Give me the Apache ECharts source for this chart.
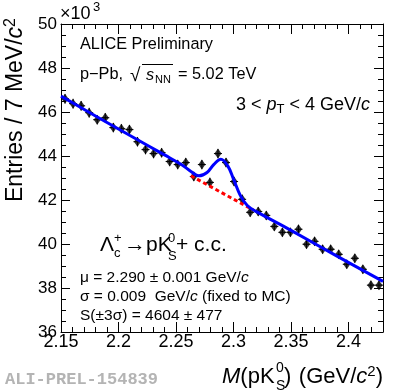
<!DOCTYPE html>
<html>
<head>
<meta charset="utf-8">
<script src="https://cdn.jsdelivr.net/npm/echarts@6/dist/echarts.min.js"></script>
<style>
html, body { margin: 0; padding: 0; background: #fff; }
#chart { width: 403px; height: 391px; }
</style>
</head>
<body>
<div id="chart"></div>
<script>
// invariant mass bin centres (GeV/c^2), 7 MeV bins
var massBins = [2.1535, 2.1605, 2.1675, 2.1745, 2.1815, 2.1885, 2.1955, 2.2025, 2.2095, 2.2165,
    2.2235, 2.2305, 2.2375, 2.2445, 2.2515, 2.2585, 2.2655, 2.2725, 2.2795, 2.2865,
    2.2935, 2.3005, 2.3075, 2.3145, 2.3215, 2.3285, 2.3355, 2.3425, 2.3495, 2.3565,
    2.3635, 2.3705, 2.3775, 2.3845, 2.3915, 2.3985, 2.4055, 2.4125, 2.4195, 2.4265];
// entries (x10^3)
var entries = [46.60, 46.38, 46.28, 45.97, 45.65, 45.74, 45.29, 45.24, 45.20, 44.65,
    44.29, 44.11, 44.15, 43.75, 43.61, 43.70, 43.07, 43.61, 42.80, 44.11,
    43.70, 42.84, 42.03, 41.44, 41.48, 41.30, 40.80, 40.53, 40.53, 40.67,
    39.99, 40.12, 39.76, 39.76, 39.53, 39.08, 39.35, 38.85, 38.13, 38.13];
var entryErrs = [0.22, 0.22, 0.22, 0.22, 0.21, 0.21, 0.21, 0.21, 0.21, 0.21,
    0.21, 0.21, 0.21, 0.21, 0.21, 0.21, 0.21, 0.21, 0.21, 0.21,
    0.21, 0.21, 0.21, 0.20, 0.20, 0.20, 0.20, 0.20, 0.20, 0.20,
    0.20, 0.20, 0.20, 0.20, 0.20, 0.20, 0.20, 0.20, 0.20, 0.20];
var binHalfWidth = 0.0035;

// total fit (blue)
var fitMass = [2.150, 2.180, 2.210, 2.240, 2.255, 2.263, 2.270, 2.277, 2.283, 2.289,
    2.295, 2.300, 2.306, 2.312, 2.320, 2.350, 2.390, 2.430];
var fitVals = [46.72, 45.82, 44.93, 44.05, 43.60, 43.30, 43.10, 43.25, 43.62, 43.85,
    43.55, 42.95, 42.20, 41.75, 41.47, 40.62, 39.45, 38.30];
// background under the peak (red dashed)
var bkgMass = [2.263, 2.317];
var bkgVals = [43.10, 41.55];

var FONT = 'Liberation Sans';

function zip(a, b, c) {
    return a.map(function (v, i) { return c ? [v, b[i], c[i]] : [v, b[i]]; });
}

function txt(x, y, text, size, extra) {
    var st = {
        text: text,
        fontFamily: FONT,
        fontSize: size,
        fill: '#000',
        textAlign: 'left',
        textVerticalAlign: 'middle'
    };
    for (var k in (extra || {})) st[k] = extra[k];
    return {type: 'text', x: x, y: y, style: st, z: 100};
}

function richSet(size) {
    return {
        n: {fontFamily: FONT, fontSize: size, color: '#000', lineHeight: size + 4},
        i: {fontFamily: FONT, fontSize: size, color: '#000', fontStyle: 'italic', lineHeight: size + 4},
        sub: {fontFamily: FONT, fontSize: Math.round(size * 0.7), color: '#000', verticalAlign: 'bottom', lineHeight: Math.round(size * 0.7)},
        sup: {fontFamily: FONT, fontSize: Math.round(size * 0.7), color: '#000', verticalAlign: 'top', lineHeight: Math.round(size * 0.7)}
    };
}

var tickAxis = function (pos, isX) {
    return {
        type: 'value',
        position: pos,
        min: isX ? 2.15 : 36,
        max: isX ? 2.43 : 50,
        interval: isX ? 0.05 : 2,
        axisLine: {show: true, onZero: false, lineStyle: {color: '#000', width: 1}},
        axisTick: {show: true, inside: true, length: isX ? 10 : 9, lineStyle: {color: '#000', width: 1}},
        minorTick: {show: true, splitNumber: isX ? 5 : 4, length: 5, lineStyle: {color: '#000', width: 1}},
        splitLine: {show: false},
        axisLabel: {show: false}
    };
};

var xMain = tickAxis('bottom', true);
xMain.axisLabel = {
    show: true, color: '#000', fontFamily: FONT, fontSize: 18, margin: 1,
    showMaxLabel: false,
    formatter: function (v) { return String(+v.toFixed(2)); }
};
var yMain = tickAxis('left', false);
yMain.axisLabel = {show: true, color: '#000', fontFamily: FONT, fontSize: 17, margin: 4};

var chart = echarts.init(document.getElementById('chart'));
chart.setOption({
    animation: false,
    backgroundColor: '#fff',
    grid: {left: 61, right: 20, top: 24, bottom: 59},
    xAxis: [xMain, tickAxis('top', true)],
    yAxis: [yMain, tickAxis('right', false)],
    series: [
        {
            type: 'custom',
            data: zip(massBins, entries, entryErrs),
            renderItem: function (params, api) {
                var m = api.value(0), v = api.value(1), e = api.value(2);
                var top = api.coord([m, v + e]), bot = api.coord([m, v - e]);
                var l = api.coord([m - binHalfWidth, v]), r = api.coord([m + binHalfWidth, v]);
                return {
                    type: 'group',
                    children: [
                        {type: 'line', shape: {x1: top[0], y1: top[1], x2: bot[0], y2: bot[1]}, style: {stroke: '#000', lineWidth: 1}},
                        {type: 'line', shape: {x1: l[0], y1: l[1], x2: r[0], y2: r[1]}, style: {stroke: '#000', lineWidth: 1}}
                    ]
                };
            },
            z: 2
        },
        {
            type: 'scatter',
            data: zip(massBins, entries),
            symbol: 'diamond',
            symbolSize: [7, 10],
            itemStyle: {color: '#000'},
            z: 3
        },
        {
            type: 'line',
            data: zip(bkgMass, bkgVals),
            showSymbol: false,
            lineStyle: {color: '#ff0000', width: 3, type: [4, 3]},
            z: 4
        },
        {
            type: 'line',
            data: zip(fitMass, fitVals),
            showSymbol: false,
            smooth: 0.4,
            lineStyle: {color: '#0000ff', width: 3},
            z: 5
        }
    ],
    graphic: [
        // exponent
        txt(60, 14, '×10', 18),
        txt(93, 7, '3', 13),
        txt(80, 45, 'ALICE Preliminary', 16.3),
        // collision system
        txt(80, 75, 'p−Pb,', 16.3),
        txt(130, 76, '√', 19),
        {type: 'line', shape: {x1: 142, y1: 64.5, x2: 173, y2: 64.5}, style: {stroke: '#000', lineWidth: 1}, z: 100},
        txt(146, 75, 's', 16.3, {fontStyle: 'italic'}),
        txt(155, 80, 'NN', 11),
        txt(178, 75, '= 5.02 TeV', 16.3),
        txt(370, 105, '{n|3 < }{i|p}{sub|T}{n| < 4 GeV/}{i|c}', 18, {rich: richSet(18), textAlign: 'right'}),
        // decay channel
        txt(100, 245, 'Λ', 21),
        txt(114, 253, 'c', 13),
        txt(114, 238, '+', 13),
        txt(124, 245, '→', 22),
        txt(146, 245, 'pK', 21),
        txt(168, 238, '0', 13),
        txt(168, 256, 'S', 13),
        txt(176, 245, '+ c.c.', 21),
        // fit results
        txt(80, 278, '{n|μ = 2.290 ± 0.001 GeV/}{i|c}', 15.5, {rich: richSet(15.5)}),
        txt(80, 297, '{n|σ = 0.009  GeV/}{i|c}{n| (fixed to MC)}', 15.5, {rich: richSet(15.5)}),
        txt(80, 316, 'S(±3σ) = 4604 ± 477', 15.5),
        // x axis title
        txt(222, 377, '{i|M}{n|(pK}', 22, {rich: richSet(22)}),
        txt(276, 368, '0', 14),
        txt(276, 386, 'S', 14),
        txt(284, 377, ')', 22),
        txt(383, 377, '{n|(GeV/}{i|c}{sup|2}{n|)}', 22, {rich: richSet(22), textAlign: 'right'}),
        // y axis title
        {
            type: 'text', x: 16, y: 18, rotation: Math.PI / 2, z: 100,
            style: {
                text: '{n|Entries / 7 MeV/}{i|c}{sup|2}',
                rich: richSet(23),
                textAlign: 'right', textVerticalAlign: 'middle'
            }
        },
        txt(5, 380, 'ALI-PREL-154839', 17, {fontFamily: 'Liberation Mono', fontWeight: 'bold', fill: '#b4b4b4'})
    ]
});
</script>
</body>
</html>
